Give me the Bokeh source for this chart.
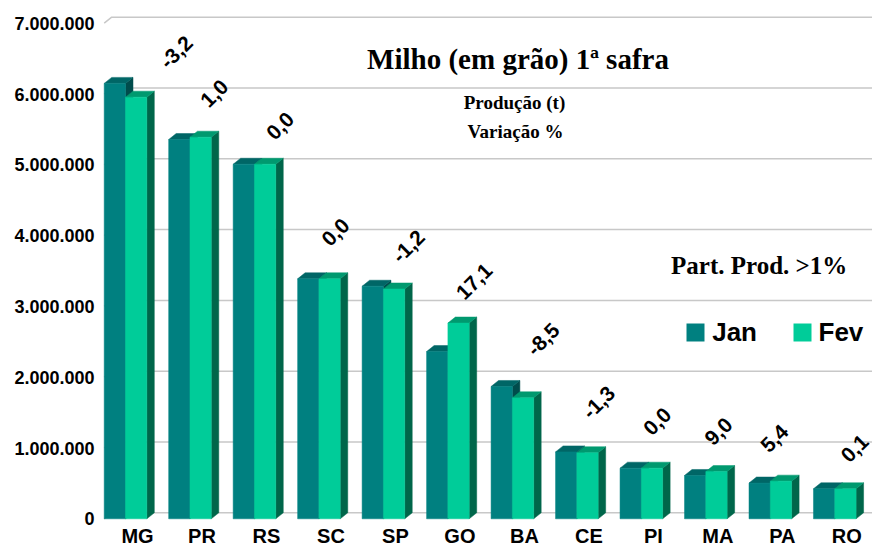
import numpy as np
from bokeh.plotting import figure
from bokeh.models import FixedTicker, Label
from bokeh.embed import file_html
from bokeh.resources import INLINE
from bokeh.core.properties import value

# ---------------- data ----------------
states = ["MG", "PR", "RS", "SC", "SP", "GO", "BA", "CE", "PI", "MA", "PA", "RO"]
jan = [6150000, 5357000, 5008000, 3390000, 3285000, 2362000, 1869000, 945000, 715000, 612000, 505000, 424000]
fev = [5955000, 5390000, 5008000, 3390000, 3246000, 2765000, 1709000, 933000, 715000, 667000, 532000, 424000]
variacao = [-3.2, 1.0, 0.0, 0.0, -1.2, 17.1, -8.5, -1.3, 0.0, 9.0, 5.4, 0.1]
y_ticks = [0, 1000000, 2000000, 3000000, 4000000, 5000000, 6000000, 7000000]
y_tick_labels = ["0", "1.000.000", "2.000.000", "3.000.000", "4.000.000",
                 "5.000.000", "6.000.000", "7.000.000"]
series_names = ["Jan", "Fev"]

# annotation layout for the rotated variation labels
var_label_dx = [0.79, 0.38, 0.40, 0.26, 0.39, 0.41, 0.48, 0.34, 0.25, 0.20, 0.065, 0.31]
var_label_y = [6590000, 6007000, 5548000, 4047000, 3846000, 3352000, 2533000, 1643000,
               1374000, 1233000, 1134000, 993000]

# ---------------- layout ----------------
W, H = 872, 547
FRAME_L, FRAME_R, FRAME_T, FRAME_B = 100, 872, 0, 547   # in window pixels
X0, SX = 125.0, 64.48          # px of first group centre, px per category
Y0, SY = 518.3, 70.8 / 1e6     # px of value 0, px per unit value

def gx(px):
    return (px - X0) / SX

def gy(py):
    return (Y0 - py) / SY

x_range = (gx(FRAME_L), gx(FRAME_R))
y_range = (gy(FRAME_B), gy(FRAME_T))

BW = 21.3 / SX            # bar width
DX = 7.5 / SX             # depth, x
DY = 6.0 / SY             # depth, y

c_jan = {"front": "#008080", "top": "#006666", "side": "#004c4c"}
c_fev = {"front": "#00cc99", "top": "#00996f", "side": "#00664a"}

p = figure(width=W, height=H, x_range=x_range, y_range=y_range,
           output_backend="svg", toolbar_location=None,
           x_axis_location=None, y_axis_location="left",
           min_border_left=FRAME_L, min_border_right=0,
           min_border_top=0, min_border_bottom=0)
p.outline_line_color = None
p.grid.visible = False
p.background_fill_color = "white"
p.border_fill_color = "white"

# y axis
ax = p.yaxis[0]
ax.ticker = FixedTicker(ticks=y_ticks)
ax.major_label_overrides = {t: l for t, l in zip(y_ticks, y_tick_labels)}
ax.axis_line_color = None
ax.major_tick_line_color = None
ax.minor_tick_line_color = None
ax.major_tick_out = 0
ax.major_tick_in = 0
ax.major_label_standoff = 6
ax.major_label_text_font = "Liberation Sans"
ax.major_label_text_font_style = "bold"
ax.major_label_text_font_size = "18px"
ax.major_label_text_color = "black"

# gridlines on the back wall with a short diagonal to the front
xw = -BW
gxs, gys = [], []
for t in y_ticks:
    gxs.append([xw, xw + DX, x_range[1]])
    gys.append([t, t + DY, t + DY])
p.multi_line(gxs, gys, line_color="#c8c8c8", line_width=1.5)

# 3D bars
idx = np.arange(len(states))

def draw_series(vals, left, cols):
    vals = np.asarray(vals, dtype=float)
    right = left + BW
    tops_x = [[l, r, r + DX, l + DX] for l, r in zip(left, right)]
    tops_y = [[v, v, v + DY, v + DY] for v in vals]
    side_x = [[r, r + DX, r + DX, r] for r in right]
    side_y = [[0, DY, v + DY, v] for v in vals]
    p.patches(side_x, side_y, fill_color=cols["side"], line_color=cols["side"], line_width=0.5)
    p.patches(tops_x, tops_y, fill_color=cols["top"], line_color=cols["top"], line_width=0.5)
    return p.quad(left=left, right=right, bottom=0, top=vals,
                  fill_color=cols["front"], line_color=cols["front"], line_width=0.5)

draw_series(jan, idx - BW, c_jan)
draw_series(fev, idx.astype(float), c_fev)

# category labels
p.text(x=idx + 12 / SX, y=[gy(546)] * len(states), text=states,
       text_align="center", text_baseline="bottom",
       text_font=value("Liberation Sans"), text_font_style="bold",
       text_font_size="20px", text_color="black")

# rotated variation labels
var_txt = [f"{v:.1f}".replace(".", ",") for v in variacao]
p.text(x=idx + np.array(var_label_dx), y=var_label_y, text=var_txt,
       angle=np.pi / 4, text_align="center", text_baseline="middle",
       text_font=value("Liberation Sans"), text_font_style="bold",
       text_font_size="21px", text_color="black")

# titles
def add_label(txt, px, py, size, font="Liberation Serif", align="center"):
    p.add_layout(Label(x=gx(px), y=gy(py), text=txt, text_align=align,
                       text_baseline="alphabetic", text_font=font,
                       text_font_style="bold", text_font_size=size,
                       text_color="black"))

add_label("Milho (em grão) 1ª safra", 517.5, 58.5, "29px")
add_label("Produção (t)", 514, 102, "19px")
add_label("Variação %", 515, 130.5, "19px")
add_label("Part. Prod. >1%", 758.7, 264.5, "25px")

# legend
leg_sq_x = [695, 802]
leg_txt_x = [711.7, 818]
p.scatter(x=[gx(v) for v in leg_sq_x], y=[gy(332)] * 2, marker="square", size=18,
          fill_color=[c_jan["front"], c_fev["front"]], line_color=None)
for name, tx in zip(series_names, leg_txt_x):
    add_label(name, tx, 331.5, "26px", font="Liberation Sans", align="left")

open("out.html", "w").write(file_html(p, INLINE))
